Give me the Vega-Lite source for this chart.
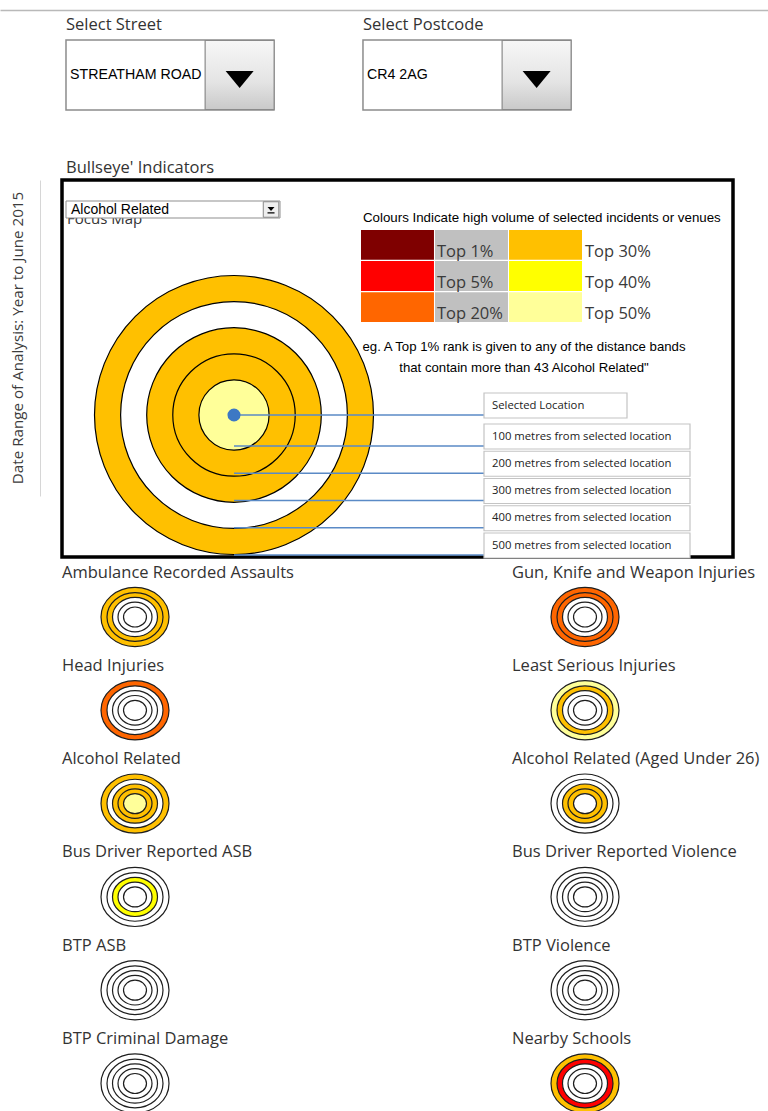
{
  "$schema": "https://vega.github.io/schema/vega-lite/v6.json",
  "background": "white",
  "padding": {"left": 0, "top": 10, "right": 0, "bottom": 0},
  "config": {"view": {"stroke": null}, "font": "Open Sans"},
  "datasets": {
    "bands": [
      {"indicator": "Ambulance Recorded Assaults", "dist": 500, "rank": "Top 30%"},
      {"indicator": "Ambulance Recorded Assaults", "dist": 400, "rank": "Top 30%"},
      {"indicator": "Ambulance Recorded Assaults", "dist": 300, "rank": "None"},
      {"indicator": "Ambulance Recorded Assaults", "dist": 200, "rank": "None"},
      {"indicator": "Ambulance Recorded Assaults", "dist": 100, "rank": "None"},
      {"indicator": "Gun, Knife and Weapon Injuries", "dist": 500, "rank": "Top 20%"},
      {"indicator": "Gun, Knife and Weapon Injuries", "dist": 400, "rank": "Top 20%"},
      {"indicator": "Gun, Knife and Weapon Injuries", "dist": 300, "rank": "None"},
      {"indicator": "Gun, Knife and Weapon Injuries", "dist": 200, "rank": "None"},
      {"indicator": "Gun, Knife and Weapon Injuries", "dist": 100, "rank": "None"},
      {"indicator": "Head Injuries", "dist": 500, "rank": "Top 20%"},
      {"indicator": "Head Injuries", "dist": 400, "rank": "None"},
      {"indicator": "Head Injuries", "dist": 300, "rank": "None"},
      {"indicator": "Head Injuries", "dist": 200, "rank": "None"},
      {"indicator": "Head Injuries", "dist": 100, "rank": "None"},
      {"indicator": "Least Serious Injuries", "dist": 500, "rank": "Top 50%"},
      {"indicator": "Least Serious Injuries", "dist": 400, "rank": "Top 30%"},
      {"indicator": "Least Serious Injuries", "dist": 300, "rank": "None"},
      {"indicator": "Least Serious Injuries", "dist": 200, "rank": "None"},
      {"indicator": "Least Serious Injuries", "dist": 100, "rank": "None"},
      {"indicator": "Alcohol Related", "dist": 500, "rank": "Top 30%"},
      {"indicator": "Alcohol Related", "dist": 400, "rank": "None"},
      {"indicator": "Alcohol Related", "dist": 300, "rank": "Top 30%"},
      {"indicator": "Alcohol Related", "dist": 200, "rank": "Top 30%"},
      {"indicator": "Alcohol Related", "dist": 100, "rank": "Top 50%"},
      {"indicator": "Alcohol Related (Aged Under 26)", "dist": 500, "rank": "None"},
      {"indicator": "Alcohol Related (Aged Under 26)", "dist": 400, "rank": "None"},
      {"indicator": "Alcohol Related (Aged Under 26)", "dist": 300, "rank": "Top 30%"},
      {"indicator": "Alcohol Related (Aged Under 26)", "dist": 200, "rank": "Top 30%"},
      {"indicator": "Alcohol Related (Aged Under 26)", "dist": 100, "rank": "None"},
      {"indicator": "Bus Driver Reported ASB", "dist": 500, "rank": "None"},
      {"indicator": "Bus Driver Reported ASB", "dist": 400, "rank": "None"},
      {"indicator": "Bus Driver Reported ASB", "dist": 300, "rank": "Top 40%"},
      {"indicator": "Bus Driver Reported ASB", "dist": 200, "rank": "None"},
      {"indicator": "Bus Driver Reported ASB", "dist": 100, "rank": "None"},
      {"indicator": "Bus Driver Reported Violence", "dist": 500, "rank": "None"},
      {"indicator": "Bus Driver Reported Violence", "dist": 400, "rank": "None"},
      {"indicator": "Bus Driver Reported Violence", "dist": 300, "rank": "None"},
      {"indicator": "Bus Driver Reported Violence", "dist": 200, "rank": "None"},
      {"indicator": "Bus Driver Reported Violence", "dist": 100, "rank": "None"},
      {"indicator": "BTP ASB", "dist": 500, "rank": "None"},
      {"indicator": "BTP ASB", "dist": 400, "rank": "None"},
      {"indicator": "BTP ASB", "dist": 300, "rank": "None"},
      {"indicator": "BTP ASB", "dist": 200, "rank": "None"},
      {"indicator": "BTP ASB", "dist": 100, "rank": "None"},
      {"indicator": "BTP Violence", "dist": 500, "rank": "None"},
      {"indicator": "BTP Violence", "dist": 400, "rank": "None"},
      {"indicator": "BTP Violence", "dist": 300, "rank": "None"},
      {"indicator": "BTP Violence", "dist": 200, "rank": "None"},
      {"indicator": "BTP Violence", "dist": 100, "rank": "None"},
      {"indicator": "BTP Criminal Damage", "dist": 500, "rank": "None"},
      {"indicator": "BTP Criminal Damage", "dist": 400, "rank": "None"},
      {"indicator": "BTP Criminal Damage", "dist": 300, "rank": "None"},
      {"indicator": "BTP Criminal Damage", "dist": 200, "rank": "None"},
      {"indicator": "BTP Criminal Damage", "dist": 100, "rank": "None"},
      {"indicator": "Nearby Schools", "dist": 500, "rank": "Top 30%"},
      {"indicator": "Nearby Schools", "dist": 400, "rank": "Top 5%"},
      {"indicator": "Nearby Schools", "dist": 300, "rank": "None"},
      {"indicator": "Nearby Schools", "dist": 200, "rank": "None"},
      {"indicator": "Nearby Schools", "dist": 100, "rank": "None"}
    ],
    "distances": [
      {"dist": 0, "label": "Selected Location"},
      {"dist": 100, "label": "100 metres from selected location"},
      {"dist": 200, "label": "200 metres from selected location"},
      {"dist": 300, "label": "300 metres from selected location"},
      {"dist": 400, "label": "400 metres from selected location"},
      {"dist": 500, "label": "500 metres from selected location"}
    ],
    "legend": [
      {"rank": "Top 1%", "hue": "Red", "shade": "Dark"},
      {"rank": "Top 5%", "hue": "Red", "shade": "Mid"},
      {"rank": "Top 20%", "hue": "Red", "shade": "Light"},
      {"rank": "Top 30%", "hue": "Yellow", "shade": "Dark"},
      {"rank": "Top 40%", "hue": "Yellow", "shade": "Mid"},
      {"rank": "Top 50%", "hue": "Yellow", "shade": "Light"}
    ]
  },
  "spacing": 40,
  "bounds": "flush",
  "vconcat": [
    {
      "width": 768,
      "height": 130,
      "data": {"values": [
        {"control": "Select Street", "selection": "STREATHAM ROAD"},
        {"control": "Select Postcode", "selection": "CR4 2AG"}
      ]},
      "encoding": {
        "x": {"field": "control", "type": "nominal",
          "scale": {"type": "band", "domain": ["Select Street", "Select Postcode"], "paddingInner": 0.3, "paddingOuter": 0.443, "align": 0.251},
          "axis": {"orient": "top", "title": null, "ticks": false, "tickSize": 0, "grid": false, "domain": true, "domainColor": "#b9b9b9", "domainWidth": 1.5, "labelAngle": 0, "labelAlign": "left", "labelOffset": -104, "labelBaseline": "bottom", "labelPadding": -22, "labelFont": "Open Sans", "labelFontSize": 16.5, "labelColor": "#333333", "labelOverlap": false, "labelFlush": false, "labelLimit": 0, "labelBound": false}}
      },
      "layer": [
        {"mark": {"type": "point", "shape": "M -1 -0.337 L 1 -0.337 L 1 0.337 L -1 0.337 Z", "size": 43264, "filled": true, "fill": "#ffffff", "stroke": "#8c8c8c", "strokeWidth": 1.5, "opacity": 1}},
        {"mark": {"type": "point", "shape": "M -1 -1 L 1 -1 L 1 1 L -1 1 Z", "size": 4761, "filled": true,
          "fill": {"gradient": "linear", "x1": 0, "y1": 0, "x2": 0, "y2": 1, "stops": [{"offset": 0, "color": "#f7f7f7"}, {"offset": 0.6, "color": "#e4e4e4"}, {"offset": 1, "color": "#c9c9c9"}]},
          "stroke": "#8a8a8a", "strokeWidth": 1.2, "opacity": 1},
          "encoding": {"x": {"field": "control", "type": "nominal", "bandPosition": 0.835}}},
        {"mark": {"type": "point", "shape": "M -1 -0.6 L 1 -0.6 L 0 0.6 Z", "size": 784, "filled": true, "fill": "#000000", "strokeWidth": 0, "opacity": 1, "yOffset": 4.5},
          "encoding": {"x": {"field": "control", "type": "nominal", "bandPosition": 0.835}}},
        {"mark": {"type": "text", "align": "left", "baseline": "middle", "dx": 4, "font": "Liberation Sans", "fontSize": 14.2, "color": "#000000"},
          "encoding": {"x": {"field": "control", "type": "nominal", "bandPosition": 0}, "text": {"field": "selection", "type": "nominal"}}}
      ]
    },
    {
      "spacing": 26,
      "bounds": "flush",
      "hconcat": [
        {
          "width": 36,
          "height": 316,
          "data": {"values": [{"caption": "Date Range of Analysis: Year to June 2015"}]},
          "mark": {"type": "text", "angle": 270, "align": "center", "baseline": "middle", "font": "Open Sans", "fontSize": 15.2, "color": "#3c3c3c"},
          "encoding": {
            "y": {"field": "caption", "type": "nominal", "axis": {"orient": "right", "labels": false, "ticks": false, "grid": false, "title": null, "domainColor": "#d6d6d6", "domainWidth": 1, "offset": 4}},
            "text": {"field": "caption", "type": "nominal"}
          }
        },
        {
          "spacing": 25,
          "bounds": "flush",
          "vconcat": [
            {
              "width": 671,
              "height": 377,
              "view": {"stroke": "#000000", "strokeWidth": 3.5},
              "title": {"text": "Bullseye' Indicators", "anchor": "start", "font": "Open Sans", "fontSize": 16.5, "fontWeight": "normal", "color": "#333333", "offset": 4, "dx": 4},
              "resolve": {"scale": {"x": "independent", "y": "independent"}},
              "layer": [
                {
                  "data": {"values": [{"selector": "Focus Map", "indicator": "Alcohol Related"}]},
                  "encoding": {
                    "x": {"field": "selector", "type": "nominal", "scale": {"type": "band", "domain": ["Focus Map"], "range": [4, 218], "paddingInner": 0, "paddingOuter": 0}, "axis": null},
                    "y": {"field": "selector", "type": "nominal", "scale": {"type": "band", "domain": ["Focus Map"], "range": [21, 38], "paddingInner": 0, "paddingOuter": 0}, "axis": null}
                  },
                  "layer": [
                    {"mark": {"type": "text", "align": "left", "baseline": "alphabetic", "dx": 1, "dy": 6, "font": "Open Sans", "fontSize": 15, "color": "#333333"},
                      "encoding": {
                        "x": {"field": "selector", "type": "nominal", "bandPosition": 0, "axis": null},
                        "y": {"field": "selector", "type": "nominal", "bandPosition": 1, "axis": null},
                        "text": {"field": "selector", "type": "nominal"}}},
                    {"mark": {"type": "rect", "fill": "#ffffff", "stroke": "#8f8f8f", "strokeWidth": 1}},
                    {"mark": {"type": "text", "align": "left", "baseline": "middle", "dx": 5, "font": "Liberation Sans", "fontSize": 14, "color": "#000000"},
                      "encoding": {
                        "x": {"field": "selector", "type": "nominal", "bandPosition": 0, "axis": null},
                        "text": {"field": "indicator", "type": "nominal"}}},
                    {"mark": {"type": "point", "shape": "M -1 -1 L 1 -1 L 1 1 L -1 1 Z", "size": 240, "filled": true, "fill": "#eeeeee", "stroke": "#888888", "strokeWidth": 1, "opacity": 1},
                      "encoding": {"x": {"field": "selector", "type": "nominal", "bandPosition": 0.958, "axis": null}}},
                    {"mark": {"type": "point", "shape": "M -1 -0.7 L 1 -0.7 L 0 0.4 Z M -1 0.8 L 1 0.8 L 1 1.15 L -1 1.15 Z", "size": 49, "filled": true, "fill": "#000000", "strokeWidth": 0, "opacity": 1},
                      "encoding": {"x": {"field": "selector", "type": "nominal", "bandPosition": 0.958, "axis": null}}}
                  ]
                },
                {
                  "data": {"values": [{"caption": "Colours Indicate high volume of selected incidents or venues"}]},
                  "mark": {"type": "text", "align": "left", "baseline": "middle", "font": "Liberation Sans", "fontSize": 13.3, "color": "#000000"},
                  "encoding": {
                    "x": {"field": "caption", "type": "nominal", "bandPosition": 0, "scale": {"type": "band", "range": [301, 668], "paddingInner": 0, "paddingOuter": 0}, "axis": null},
                    "y": {"field": "caption", "type": "nominal", "scale": {"type": "band", "range": [30, 46], "paddingInner": 0, "paddingOuter": 0}, "axis": null},
                    "text": {"field": "caption", "type": "nominal"}
                  }
                },
                {
                  "data": {"name": "legend"},
                  "mark": {"type": "rect"},
                  "encoding": {
                    "x": {"field": "hue", "type": "nominal", "scale": {"type": "band", "domain": ["Red", "Yellow"], "range": [299, 520], "paddingInner": 0.507, "paddingOuter": 0}, "axis": null},
                    "y": {"field": "shade", "type": "nominal", "scale": {"type": "band", "domain": ["Dark", "Mid", "Light"], "range": [50, 142], "paddingInner": 0.04, "paddingOuter": 0}, "axis": null},
                    "color": {"field": "rank", "type": "nominal", "legend": null,
                      "scale": {"domain": ["Top 1%", "Top 5%", "Top 20%", "Top 30%", "Top 40%", "Top 50%", "None"], "range": ["#7F0000", "#FF0000", "#FF6600", "#FFC000", "#FFFF00", "#FFFF99", "#FFFFFF"]}}
                  }
                },
                {
                  "data": {"name": "legend"},
                  "transform": [{"filter": "datum.hue === 'Red'"}],
                  "mark": {"type": "rect", "fill": "#C0C0C0"},
                  "encoding": {
                    "x": {"field": "hue", "type": "nominal", "scale": {"type": "band", "domain": ["Red", "Yellow"], "range": [373, 594], "paddingInner": 0.507, "paddingOuter": 0}, "axis": null},
                    "y": {"field": "shade", "type": "nominal", "scale": {"type": "band", "domain": ["Dark", "Mid", "Light"], "range": [50, 142], "paddingInner": 0.04, "paddingOuter": 0}, "axis": null}
                  }
                },
                {
                  "data": {"name": "legend"},
                  "mark": {"type": "text", "align": "left", "baseline": "bottom", "dx": 2, "dy": 0, "font": "Open Sans", "fontSize": 16.5, "color": "#3a3a3a"},
                  "encoding": {
                    "x": {"field": "hue", "type": "nominal", "bandPosition": 0, "scale": {"type": "band", "domain": ["Red", "Yellow"], "range": [373, 594], "paddingInner": 0.507, "paddingOuter": 0}, "axis": null},
                    "y": {"field": "shade", "type": "nominal", "bandPosition": 1, "scale": {"type": "band", "domain": ["Dark", "Mid", "Light"], "range": [50, 142], "paddingInner": 0.04, "paddingOuter": 0}, "axis": null},
                    "text": {"field": "rank", "type": "nominal"}
                  }
                },
                {
                  "data": {"values": [{"note": "eg. A Top 1% rank is given to any of the distance bands\nthat contain more than 43 Alcohol Related\""}]},
                  "mark": {"type": "text", "align": "center", "baseline": "middle", "lineBreak": "\n", "lineHeight": 21, "font": "Liberation Sans", "fontSize": 13.2, "color": "#000000"},
                  "encoding": {
                    "x": {"field": "note", "type": "nominal", "scale": {"type": "band", "range": [300, 624], "paddingInner": 0, "paddingOuter": 0}, "axis": null},
                    "y": {"field": "note", "type": "nominal", "scale": {"type": "band", "range": [146, 188], "paddingInner": 0, "paddingOuter": 0}, "axis": null},
                    "text": {"field": "note", "type": "nominal"}
                  }
                },
                {
                  "layer": [
                    {
                      "data": {"name": "bands"},
                      "transform": [{"filter": "datum.indicator === 'Alcohol Related'"}],
                      "mark": {"type": "arc", "stroke": "#000000", "strokeWidth": 1.2},
                      "encoding": {
                        "x": {"datum": "Bullseye", "type": "nominal", "scale": {"type": "point", "domain": ["Bullseye", "Key"], "range": [172, 422], "padding": 0}, "axis": null},
                        "y": {"datum": 0, "type": "quantitative", "scale": {"domain": [0, 100, 500], "range": [235, 266, 375], "nice": false, "zero": false}, "axis": null},
                        "theta": {"value": 0},
                        "theta2": {"value": 6.2832},
                        "radius": {"field": "dist", "type": "quantitative", "stack": null, "scale": {"type": "linear", "domain": [100, 500], "range": [35.1, 139.5], "zero": false, "nice": false}},
                        "radius2": {"value": 0},
                        "color": {"field": "rank", "type": "nominal", "legend": null,
                          "scale": {"domain": ["Top 1%", "Top 5%", "Top 20%", "Top 30%", "Top 40%", "Top 50%", "None"], "range": ["#7F0000", "#FF0000", "#FF6600", "#FFC000", "#FFFF00", "#FFFF99", "#FFFFFF"]}}
                      }
                    },
                    {
                      "data": {"name": "distances"},
                      "mark": {"type": "rule", "color": "#5A8AC6", "strokeWidth": 1.5},
                      "encoding": {
                        "x": {"datum": "Bullseye", "type": "nominal", "axis": null},
                        "x2": {"datum": "Key"},
                        "y": {"field": "dist", "type": "quantitative", "axis": null}
                      }
                    },
                    {
                      "data": {"name": "distances"},
                      "transform": [{"filter": "datum.dist === 0"}],
                      "mark": {"type": "point", "filled": true, "color": "#3D78C4", "size": 170, "opacity": 1},
                      "encoding": {
                        "x": {"datum": "Bullseye", "type": "nominal", "axis": null},
                        "y": {"field": "dist", "type": "quantitative", "axis": null}
                      }
                    },
                    {
                      "data": {"name": "distances"},
                      "transform": [{"filter": "datum.dist === 0"}],
                      "mark": {"type": "rect", "fill": "#ffffff", "stroke": "#c4c4c4", "strokeWidth": 1.2, "yOffset": -22, "y2Offset": 3, "x2Offset": 143},
                      "encoding": {
                        "x": {"datum": "Key", "type": "nominal", "axis": null},
                        "x2": {"datum": "Key"},
                        "y": {"field": "dist", "type": "quantitative", "axis": null},
                        "y2": {"field": "dist"}
                      }
                    },
                    {
                      "data": {"name": "distances"},
                      "transform": [{"filter": "datum.dist > 0"}],
                      "mark": {"type": "rect", "fill": "#ffffff", "stroke": "#c4c4c4", "strokeWidth": 1.2, "yOffset": -22, "y2Offset": 3, "x2Offset": 206},
                      "encoding": {
                        "x": {"datum": "Key", "type": "nominal", "axis": null},
                        "x2": {"datum": "Key"},
                        "y": {"field": "dist", "type": "quantitative", "axis": null},
                        "y2": {"field": "dist"}
                      }
                    },
                    {
                      "data": {"name": "distances"},
                      "mark": {"type": "text", "align": "left", "baseline": "middle", "dx": 8, "dy": -9.5, "font": "Open Sans", "fontSize": 11.3, "color": "#222222"},
                      "encoding": {
                        "x": {"datum": "Key", "type": "nominal", "axis": null},
                        "y": {"field": "dist", "type": "quantitative", "axis": null},
                        "text": {"field": "label", "type": "nominal"}
                      }
                    }
                  ]
                }
              ]
            },
            {
              "data": {"name": "bands"},
              "facet": {
                "field": "indicator", "type": "nominal", "title": null,
                "sort": ["Ambulance Recorded Assaults", "Gun, Knife and Weapon Injuries", "Head Injuries", "Least Serious Injuries", "Alcohol Related", "Alcohol Related (Aged Under 26)", "Bus Driver Reported ASB", "Bus Driver Reported Violence", "BTP ASB", "BTP Violence", "BTP Criminal Damage", "Nearby Schools"],
                "header": {"title": null, "labelAnchor": "start", "labelAlign": "left", "labelFont": "Open Sans", "labelFontSize": 16.5, "labelColor": "#333333", "labelPadding": 1, "labelLimit": 0}
              },
              "columns": 2,
              "spacing": {"row": 23.3, "column": 304},
              "bounds": "flush",
              "spec": {
                "width": 146,
                "height": 70,
                "mark": {"type": "point", "shape": "M -1 0 A 1 0.87 0 1 1 1 0 A 1 0.87 0 1 1 -1 0 Z", "filled": true, "stroke": "#1e1e1e", "strokeWidth": 1.2, "opacity": 1},
                "encoding": {
                  "size": {"field": "dist", "type": "quantitative", "legend": null,
                    "scale": {"type": "threshold", "domain": [150, 250, 350, 450], "range": [529, 1156, 2025, 3136, 4624]}},
                  "color": {"field": "rank", "type": "nominal", "legend": null,
                    "scale": {"domain": ["Top 1%", "Top 5%", "Top 20%", "Top 30%", "Top 40%", "Top 50%", "None"], "range": ["#7F0000", "#FF0000", "#FF6600", "#FFC000", "#FFFF00", "#FFFF99", "#FFFFFF"]}}
                }
              }
            }
          ]
        }
      ]
    }
  ]
}
